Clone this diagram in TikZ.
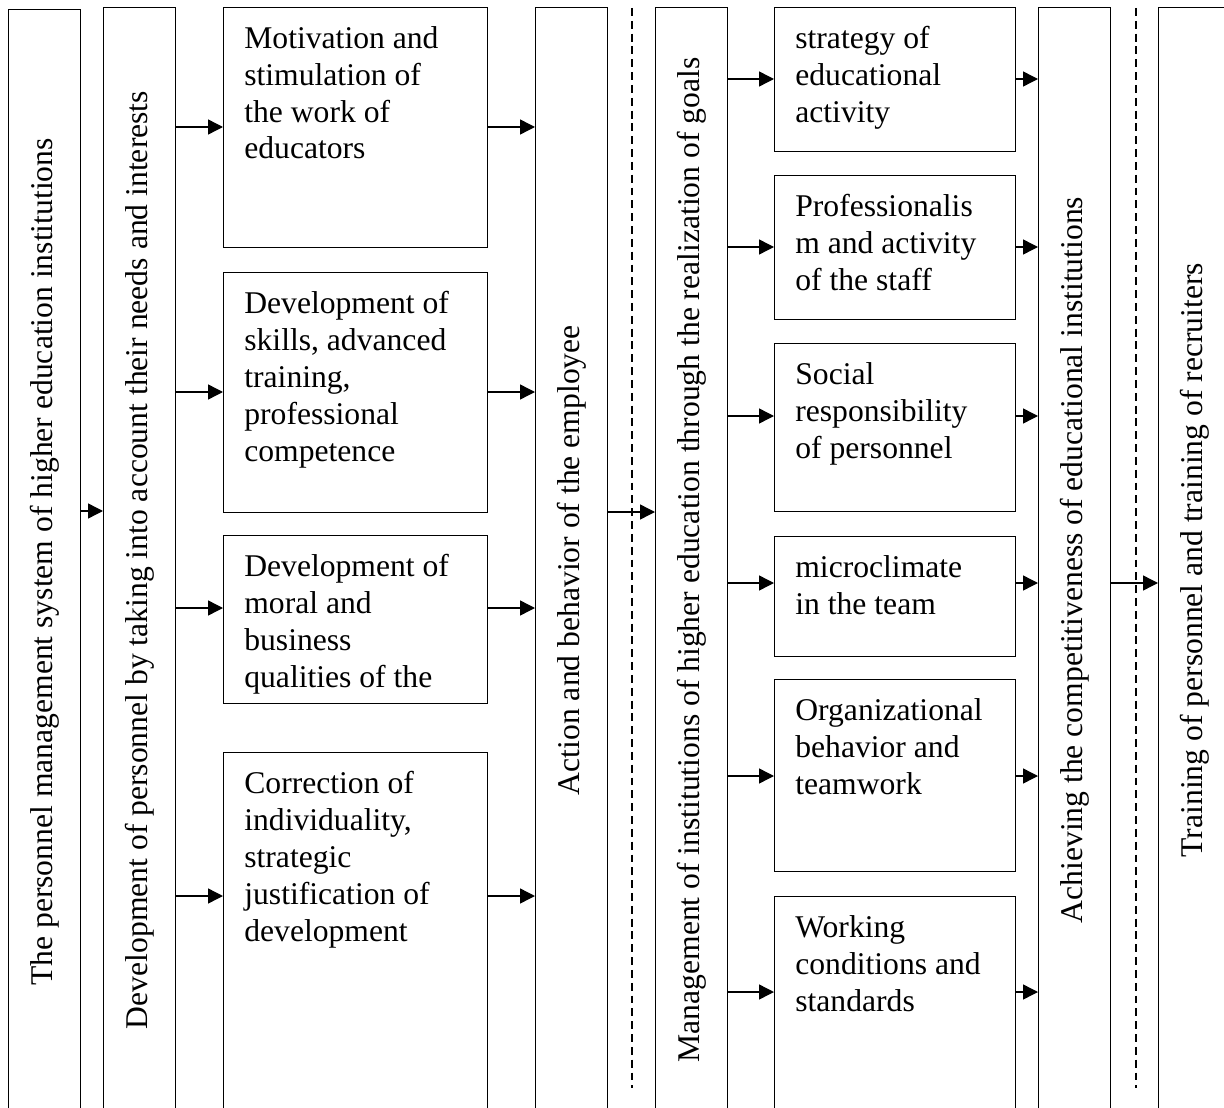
\documentclass[tikz,border=0pt]{standalone}
\usepackage{fontspec}
\setmainfont{Liberation Serif}
\usepackage{graphicx}
\usetikzlibrary{positioning,arrows.meta}

\begin{document}
\begin{tikzpicture}[x=0.02cm,y=-0.02cm,
    every node/.style={font=\fontsize{18pt}{21pt}\selectfont},
    col/.style={draw,line width=0.8pt,inner sep=0pt,anchor=north west,minimum width=1.44cm,minimum height=22.1cm},
    box/.style={draw,line width=0.8pt,inner sep=0pt,anchor=north west,minimum width=#1},
    lbox/.style={box=5.28cm},
    rbox/.style={box=4.82cm},
    boxtext/.style={anchor=north west,align=left,inner xsep=0.42cm,inner ysep=0.38cm},
    arr/.style={-{Triangle[length=8.5pt,width=8.5pt]},line width=0.8pt},
    sep/.style={line width=0.6pt,dash pattern=on 4.5pt off 2.8pt}]
  \useasboundingbox (0,0) rectangle (1224,1108);
  \clip (0,0) rectangle (1224,1108);

  % tall columns
  \node[col](sys) at (8,9){\rotatebox{90}{The personnel management system of higher education institutions}};
  \node[col](dev) at (103,7){\rotatebox{90}{Development of personnel by taking into account their needs and interests}};
  \node[col](act) at (535,7){\rotatebox{90}{Action and behavior of the employee}};
  \node[col](mgmt) at (655,7){\rotatebox{90}{Management of institutions of higher education through the realization of goals}};
  \node[col](comp) at (1038,7){\rotatebox{90}{Achieving the competitiveness of educational institutions}};
  \node[col](train) at (1158,7){\rotatebox{90}{Training of personnel and training of recruiters}};

  % left boxes
  \node[lbox,minimum height=4.8cm](mot) at (223,7){};
  \node[boxtext](mot-t) at (mot.north west){Motivation and\\stimulation of\\the work of\\educators};
  \node[lbox,minimum height=4.8cm](skl) at (223,272){};
  \node[boxtext](skl-t) at (skl.north west){Development of\\skills, advanced\\training,\\professional\\competence};
  \node[lbox,minimum height=3.36cm](mor) at (223,535){};
  \node[boxtext](mor-t) at (mor.north west){Development of\\moral and\\business\\qualities of the};
  \node[lbox,minimum height=7.4cm](cor) at (223,752){};
  \node[boxtext](cor-t) at (cor.north west){Correction of\\individuality,\\strategic\\justification of\\development};

  % right boxes
  \node[rbox,minimum height=2.88cm](strat) at (774,7){};
  \node[boxtext](strat-t) at (strat.north west){strategy of\\educational\\activity};
  \node[rbox,minimum height=2.88cm](prof) at (774,175){};
  \node[boxtext](prof-t) at (prof.north west){Professionalis\\m and activity\\of the staff};
  \node[rbox,minimum height=3.36cm](soc) at (774,343){};
  \node[boxtext](soc-t) at (soc.north west){Social\\responsibility\\of personnel};
  \node[rbox,minimum height=2.4cm](clim) at (774,536){};
  \node[boxtext](clim-t) at (clim.north west){microclimate\\in the team};
  \node[rbox,minimum height=3.84cm](org) at (774,679){};
  \node[boxtext](org-t) at (org.north west){Organizational\\behavior and\\teamwork};
  \node[rbox,minimum height=4.6cm](work) at (774,896){};
  \node[boxtext](work-t) at (work.north west){Working\\conditions and\\standards};

  % separators
  \draw[sep] (632,8) -- (632,1088);
  \draw[sep] (1136,8) -- (1136,1088);

  % arrows
  \draw[arr] (sys.east |- 0,511) -- (dev.west |- 0,511);
  \foreach \b/\y in {mot/127,skl/392,mor/608,cor/896}{
    \draw[arr] (dev.east |- 0,\y) -- (\b.west |- 0,\y);
    \draw[arr] (\b.east |- 0,\y) -- (act.west |- 0,\y);
  }
  \draw[arr] (act.east |- 0,512) -- (mgmt.west |- 0,512);
  \foreach \b/\y in {strat/79,prof/247,soc/416,clim/583,org/776,work/992}{
    \draw[arr] (mgmt.east |- 0,\y) -- (\b.west |- 0,\y);
    \draw[arr] (\b.east |- 0,\y) -- (comp.west |- 0,\y);
  }
  \draw[arr] (comp.east |- 0,583) -- (train.west |- 0,583);
\end{tikzpicture}
\end{document}
